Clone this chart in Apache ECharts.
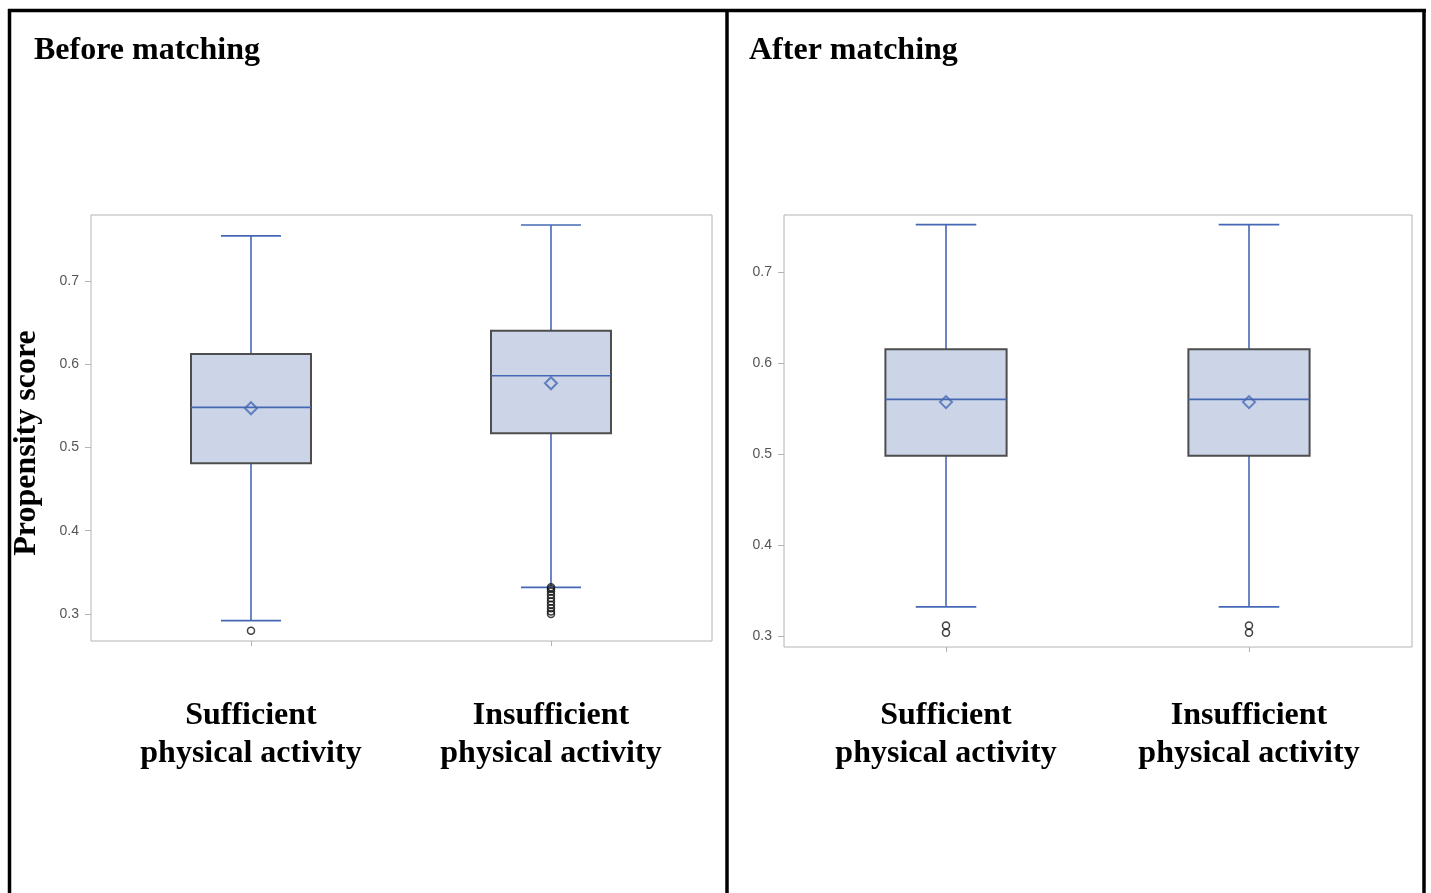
<!DOCTYPE html>
<html>
<head>
<meta charset="utf-8">
<script src="https://cdn.jsdelivr.net/npm/echarts@6/dist/echarts.min.js"></script>
<style>
html,body{margin:0;padding:0;background:#fff;}
#chart{width:1431px;height:893px;}
</style>
</head>
<body>
<div id="chart"></div>
<script>
// ---- data ----
var categories = ['Sufficient\nphysical activity', 'Insufficient\nphysical activity'];
var yTicks = [0.3, 0.4, 0.5, 0.6, 0.7];
// [lower whisker, Q1, median, Q3, upper whisker]
var beforeBox = [[0.292, 0.481, 0.548, 0.612, 0.754], [0.332, 0.517, 0.586, 0.640, 0.767]];
var beforeMean = [0.547, 0.577];
var beforeOutliers = [[0.280], [0.332, 0.330, 0.327, 0.323, 0.319, 0.315, 0.311, 0.307, 0.303, 0.300]];
var afterBox = [[0.332, 0.498, 0.560, 0.615, 0.752], [0.332, 0.498, 0.560, 0.615, 0.752]];
var afterMean = [0.557, 0.557];
var afterOutliers = [[0.3115, 0.3035], [0.3115, 0.3035]];

// ---- styles ----
var BLUE = '#4668b4', FILL = '#cbd5e7', EDGE = '#4d4d4d', FRAME = '#b4b4b4';
var BOX_W = 0.4, CAP_W = 0.2;
var SERIF = '"Liberation Serif","Times New Roman",serif';

function renderBox(params, api) {
  var x = api.value(0);
  var pMin = api.coord([x, api.value(1)]);
  var pQ1 = api.coord([x, api.value(2)]);
  var pMed = api.coord([x, api.value(3)]);
  var pQ3 = api.coord([x, api.value(4)]);
  var pMax = api.coord([x, api.value(5)]);
  var hw = api.size([BOX_W, 0])[0] / 2;
  var hc = api.size([CAP_W, 0])[0] / 2;
  var cx = pMin[0];
  var line = {stroke: BLUE, lineWidth: 1.6};
  return {
    type: 'group',
    children: [
      {type: 'line', shape: {x1: cx, y1: pMin[1], x2: cx, y2: pQ1[1]}, style: line},
      {type: 'line', shape: {x1: cx, y1: pQ3[1], x2: cx, y2: pMax[1]}, style: line},
      {type: 'line', shape: {x1: cx - hc, y1: pMin[1], x2: cx + hc, y2: pMin[1]}, style: line},
      {type: 'line', shape: {x1: cx - hc, y1: pMax[1], x2: cx + hc, y2: pMax[1]}, style: line},
      {type: 'rect', shape: {x: cx - hw, y: pQ3[1], width: hw * 2, height: pQ1[1] - pQ3[1]},
        style: {fill: FILL, stroke: EDGE, lineWidth: 2}},
      {type: 'line', shape: {x1: cx - hw, y1: pMed[1], x2: cx + hw, y2: pMed[1]}, style: line}
    ]
  };
}

function panelSeries(idx, box, mean, outliers) {
  var outData = [];
  outliers.forEach(function (arr, i) { arr.forEach(function (v) { outData.push([i, v]); }); });
  return [
    {type: 'custom', xAxisIndex: idx, yAxisIndex: idx, renderItem: renderBox,
      data: box.map(function (b, i) { return [i].concat(b); }),
      encode: {x: 0, y: [1, 2, 3, 4, 5]}, z: 2},
    {type: 'scatter', xAxisIndex: idx, yAxisIndex: idx, symbol: 'diamond', symbolSize: [12, 12],
      itemStyle: {color: 'transparent', borderColor: BLUE, borderWidth: 2},
      data: mean.map(function (m, i) { return [i, m]; }), z: 3},
    {type: 'scatter', xAxisIndex: idx, yAxisIndex: idx, symbol: 'circle', symbolSize: 7,
      itemStyle: {color: 'transparent', borderColor: '#111', borderWidth: 1.5},
      data: outData, z: 3}
  ];
}

function xAxis(idx, min, max, margin) {
  return {
    type: 'value', gridIndex: idx, min: min, max: max,
    axisLine: {show: false, onZero: false}, splitLine: {show: false},
    axisTick: {show: true, customValues: [0, 1], length: 5, lineStyle: {color: FRAME}},
    axisLabel: {customValues: [0, 1], margin: margin,
      formatter: function (v) { return categories[Math.round(v)]; },
      fontFamily: SERIF, fontWeight: 'bold', fontSize: 32, lineHeight: 38, color: '#000'}
  };
}
function yAxis(idx, min, max) {
  return {
    type: 'value', gridIndex: idx, min: min, max: max,
    axisLine: {show: false, onZero: false}, splitLine: {show: false},
    axisTick: {show: true, customValues: yTicks, length: 6, lineStyle: {color: FRAME}},
    axisLabel: {customValues: yTicks, margin: 12, fontFamily: '"Liberation Sans",Arial,sans-serif',
      fontSize: 14, color: '#555', formatter: function (v) { return (+v).toFixed(1); }}
  };
}

var chart = echarts.init(document.getElementById('chart'));
var frameLine = {stroke: '#000', lineWidth: 3.5};
chart.setOption({
  animation: false,
  backgroundColor: '#fff',
  grid: [
    {left: 91, top: 215, width: 621, height: 426, show: true, borderColor: FRAME, borderWidth: 1, backgroundColor: 'transparent'},
    {left: 784, top: 215, width: 628, height: 432, show: true, borderColor: FRAME, borderWidth: 1, backgroundColor: 'transparent'}
  ],
  xAxis: [xAxis(0, -0.5333, 1.5367, 56), xAxis(1, -0.5347, 1.538, 50)],
  yAxis: [yAxis(0, 0.2676, 0.779), yAxis(1, 0.2879, 0.7626)],
  series: panelSeries(0, beforeBox, beforeMean, beforeOutliers)
    .concat(panelSeries(1, afterBox, afterMean, afterOutliers)),
  graphic: [
    {type: 'line', shape: {x1: 8, y1: 10.5, x2: 1426, y2: 10.5}, style: frameLine},
    {type: 'line', shape: {x1: 9.5, y1: 9, x2: 9.5, y2: 893}, style: frameLine},
    {type: 'line', shape: {x1: 727, y1: 9, x2: 727, y2: 893}, style: frameLine},
    {type: 'line', shape: {x1: 1424, y1: 9, x2: 1424, y2: 893}, style: frameLine},
    {type: 'text', x: 34, y: 51, style: {text: 'Before matching', font: 'bold 32px ' + SERIF, fill: '#000', align: 'left', verticalAlign: 'middle'}},
    {type: 'text', x: 749, y: 51, style: {text: 'After matching', font: 'bold 32px ' + SERIF, fill: '#000', align: 'left', verticalAlign: 'middle'}},
    {type: 'text', x: 27, y: 443, rotation: Math.PI / 2, style: {text: 'Propensity score', font: 'bold 32px ' + SERIF, fill: '#000', align: 'center', verticalAlign: 'middle'}}
  ]
});
</script>
</body>
</html>
